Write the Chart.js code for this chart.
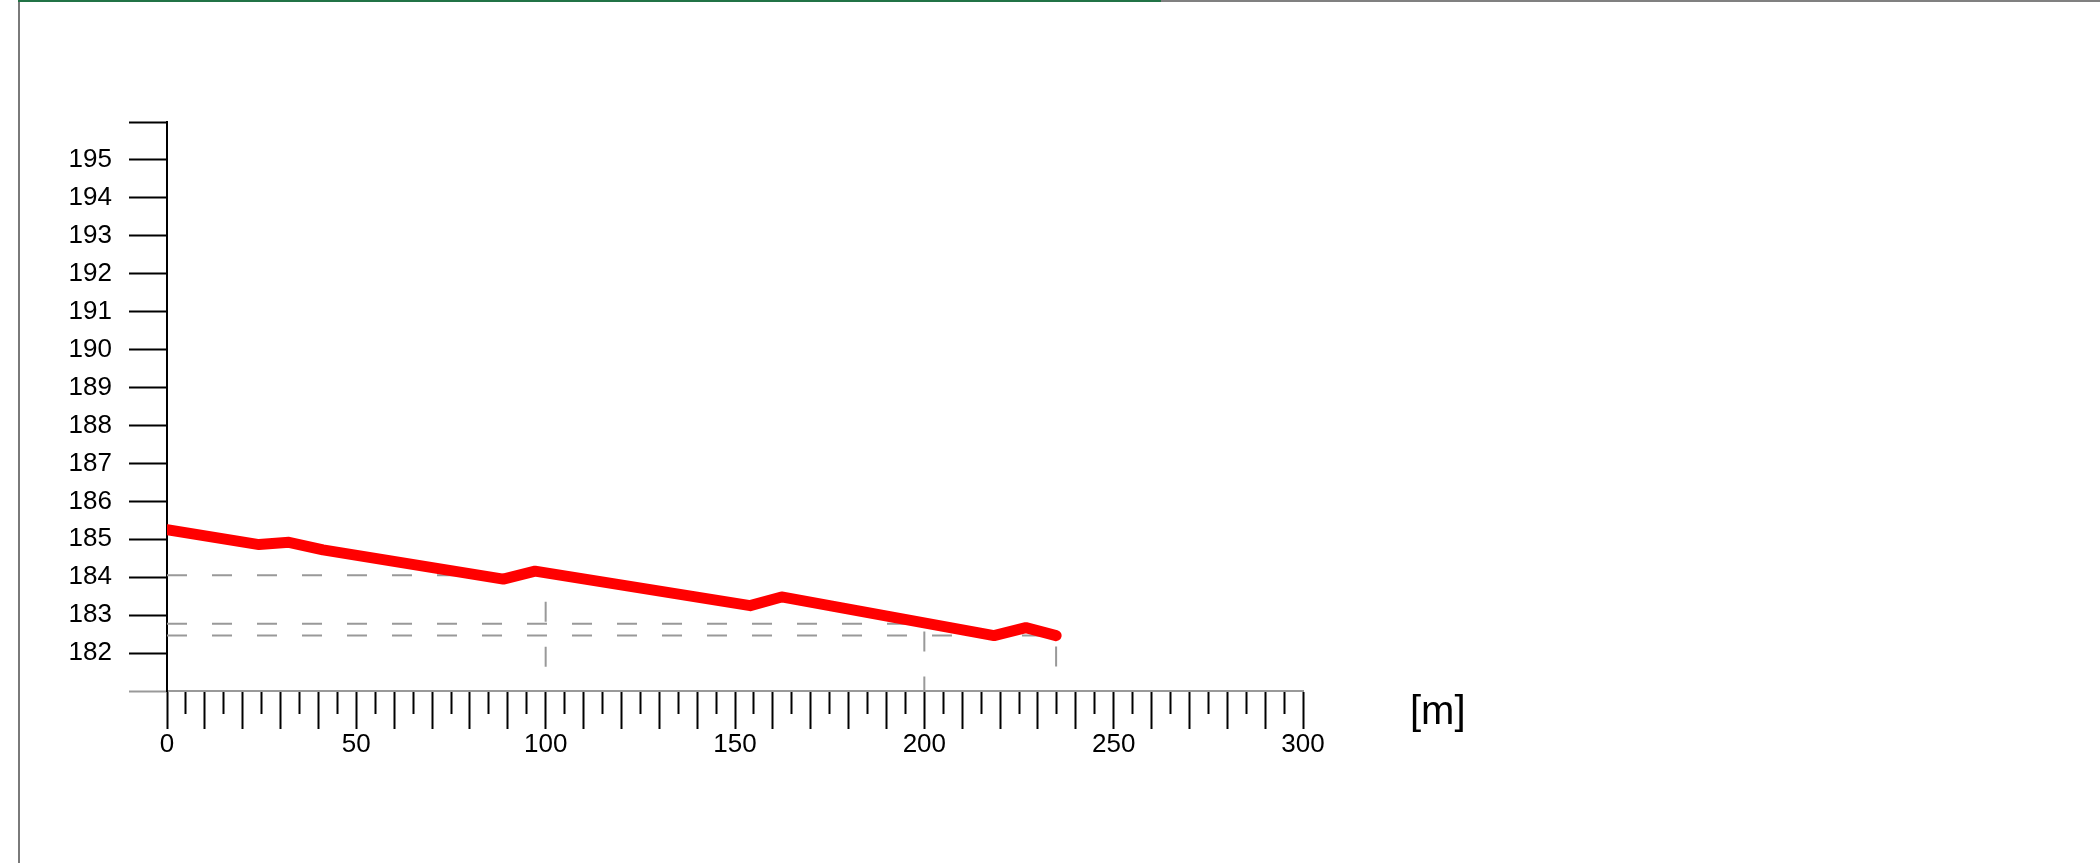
<!DOCTYPE html>
<html>
<head>
<meta charset="utf-8">
<script src="https://cdn.jsdelivr.net/npm/chart.js@4/dist/chart.umd.min.js"></script>
<style>
    body { margin: 0; background: #fff; }
    #wrap { position: relative; width: 2100px; height: 863px; overflow: hidden; }
    #frameLeft { position: absolute; left: 18px; top: 0; width: 2px; height: 863px; background: #7a7a7a; }
    #frameTopGreen { position: absolute; left: 18px; top: 0; width: 1143px; height: 2px; background: #217346; }
    #frameTopGray { position: absolute; left: 1161px; top: 0; width: 939px; height: 2px; background: #808080; }
    #unit { position: absolute; left: 1410px; top: 690px; font: 40px "Liberation Sans", Arial, sans-serif; line-height: 1; color: #000; }
</style>
</head>
<body>
<div id="wrap">
    <canvas id="profile" width="2100" height="863"></canvas>
    <div id="frameLeft"></div>
    <div id="frameTopGreen"></div>
    <div id="frameTopGray"></div>
    <div id="unit">[m]</div>
</div>
<script>
// profile: distance [m] / elevation
const distances = [0, 24.3, 32.2, 41.2, 88.8, 97.2, 154, 162.3, 218.4, 226.8, 234.8];
const elevations = [185.25, 184.86, 184.92, 184.72, 183.95, 184.16, 183.25, 183.48, 182.46, 182.67, 182.46];

// dashed guide points (projected to both axes)
const guideX = [100, 200, 234.8];
const guideY = [184.05, 182.77, 182.46];

// axis ranges
const xMin = 0, xMax = 300, xStep = 5, xLabelEvery = 50;
const yMin = 181, yMax = 196, yStep = 1;

const profilePoints = distances.map((d, i) => ({ x: d, y: elevations[i] }));

const guideSets = guideX.map((gx, i) => ({
    data: [{ x: xMin, y: guideY[i] }, { x: gx, y: guideY[i] }, { x: gx, y: yMin }],
    borderColor: '#999999',
    borderWidth: 2,
    borderDash: [20, 25],
    pointRadius: 0,
    showLine: true,
    fill: false,
    order: 2
}));

const ctx = document.getElementById('profile').getContext('2d');

new Chart(ctx, {
    type: 'scatter',
    data: {
        datasets: [{
            data: profilePoints,
            borderColor: '#ff0000',
            borderWidth: 11,
            borderCapStyle: 'round',
            borderJoinStyle: 'round',
            pointRadius: 0,
            showLine: true,
            fill: false,
            order: 1
        }, ...guideSets]
    },
    options: {
        responsive: false,
        animation: false,
        devicePixelRatio: 1,
        layout: {
            padding: { top: 122, right: 797, bottom: 0, left: 0 }
        },
        plugins: {
            legend: { display: false },
            tooltip: { enabled: false }
        },
        scales: {
            x: {
                type: 'linear',
                position: 'bottom',
                min: xMin,
                max: xMax,
                afterFit: s => { s.height = 172; },
                border: { color: '#999', width: 2 },
                grid: {
                    drawOnChartArea: false,
                    tickLength: 38,
                    tickWidth: 2,
                    tickColor: '#000',
                    tickBorderDash: c => (c.tick && c.tick.value % 10 !== 0) ? [22, 100] : []
                },
                ticks: {
                    stepSize: xStep,
                    autoSkip: false,
                    maxRotation: 0,
                    padding: 0,
                    color: '#000',
                    font: { family: '"Liberation Sans", Arial, sans-serif', size: 26 },
                    callback: v => (v % xLabelEvery === 0 ? v : '')
                }
            },
            y: {
                type: 'linear',
                position: 'left',
                min: yMin,
                max: yMax,
                afterFit: s => { s.width = 167; },
                border: { color: '#000', width: 2 },
                grid: {
                    drawOnChartArea: false,
                    tickLength: 38,
                    tickWidth: 2,
                    tickColor: c => (c.tick && c.tick.value === yMin) ? '#999' : '#000'
                },
                ticks: {
                    stepSize: yStep,
                    autoSkip: false,
                    padding: 17,
                    color: '#000',
                    font: { family: '"Liberation Sans", Arial, sans-serif', size: 26 },
                    callback: v => (v === yMin || v === yMax ? '' : v)
                }
            }
        }
    }
});
</script>
</body>
</html>
